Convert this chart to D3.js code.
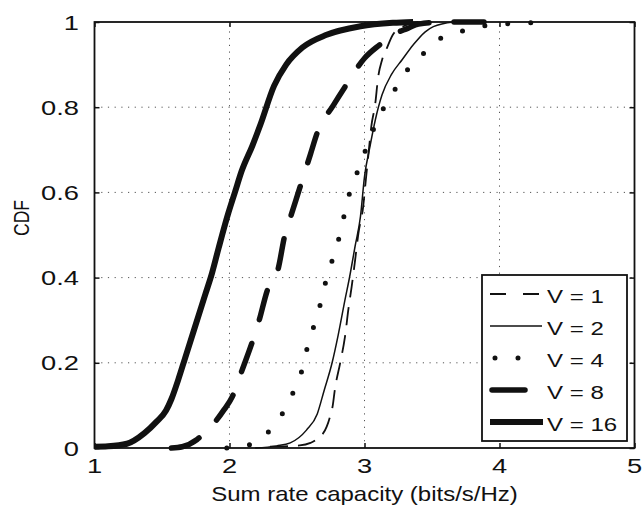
<!DOCTYPE html>
<html>
<head>
<meta charset="utf-8">
<script src="https://cdn.jsdelivr.net/npm/d3@7/dist/d3.min.js"></script>
<style>
  body { margin: 0; background: #fff; }
  text { font-family: "Liberation Sans", Arial, Helvetica, sans-serif; fill: #111; }
</style>
</head>
<body>
<svg id="chart" width="643" height="507"></svg>
<script>
// Axis ticks
const xTicks = [1, 2, 3, 4, 5];
const xTickLabels = ["1", "2", "3", "4", "5"];
const yTicks = [0, 0.2, 0.4, 0.6, 0.8, 1];
const yTickLabels = ["0", "0.2", "0.4", "0.6", "0.8", "1"];
const xTitle = "Sum rate capacity (bits/s/Hz)";
const yTitle = "CDF";

// Series names
const seriesNames = ["V = 1", "V = 2", "V = 4", "V = 8", "V = 16"];

// Empirical CDF curves: [sum rate (bits/s/Hz), CDF]
const cdfV1 = [[2.30,0.003],[2.52,0.006],[2.60,0.012],[2.645,0.02],[2.72,0.05],[2.745,0.074],[2.765,0.10],
  [2.78,0.136],[2.82,0.20],[2.855,0.26],[2.88,0.324],[2.905,0.379],[2.93,0.44],[2.955,0.504],[2.99,0.566],
  [3.01,0.63],[3.03,0.692],[3.05,0.754],[3.08,0.809],[3.10,0.868],[3.13,0.911],[3.165,0.938],[3.21,0.97],
  [3.29,0.99],[3.40,1.0]];
const cdfV2 = [[2.19,0.0],[2.35,0.005],[2.45,0.012],[2.57,0.042],[2.65,0.08],[2.70,0.134],[2.76,0.20],
  [2.805,0.265],[2.855,0.347],[2.89,0.402],[2.93,0.473],[2.97,0.543],[3.00,0.637],[3.04,0.707],[3.08,0.77],
  [3.13,0.829],[3.20,0.877],[3.28,0.912],[3.36,0.946],[3.45,0.977],[3.51,0.989],[3.66,1.0]];
const cdfV4 = [[1.98,0.0],[2.14,0.007],[2.27,0.032],[2.385,0.077],[2.46,0.123],[2.53,0.175],[2.57,0.228],
  [2.62,0.281],[2.67,0.334],[2.71,0.387],[2.76,0.44],[2.81,0.492],[2.85,0.547],[2.89,0.599],[2.95,0.65],
  [2.99,0.684],[3.05,0.735],[3.12,0.785],[3.21,0.833],[3.30,0.88],[3.41,0.917],[3.53,0.955],[3.69,0.975],
  [3.85,0.989],[4.03,0.995],[4.21,0.998],[4.40,1.0]];
const cdfV8 = [[1.57,0.0],[1.65,0.003],[1.76,0.02],[1.83,0.04],[1.89,0.06],[1.96,0.09],[2.02,0.12],
  [2.09,0.18],[2.17,0.25],[2.22,0.30],[2.28,0.37],[2.36,0.42],[2.41,0.50],[2.46,0.55],[2.53,0.62],
  [2.60,0.69],[2.65,0.74],[2.77,0.805],[2.86,0.85],[3.00,0.915],[3.11,0.946],[3.21,0.97],[3.32,0.985],
  [3.40,0.995],[3.60,1.0],[4.05,1.0]];
const cdfV16 = [[1.00,0.003],[1.10,0.004],[1.24,0.01],[1.37,0.035],[1.46,0.062],[1.53,0.088],[1.57,0.115],
  [1.62,0.16],[1.67,0.21],[1.74,0.28],[1.82,0.36],[1.87,0.41],[1.92,0.47],[1.99,0.55],[2.04,0.60],
  [2.09,0.65],[2.17,0.71],[2.23,0.76],[2.33,0.85],[2.42,0.90],[2.54,0.94],[2.72,0.97],[2.97,0.99],
  [3.21,0.998],[3.36,1.0]];

const seriesData = [cdfV1, cdfV2, cdfV4, cdfV8, cdfV16];

// Line styles, one per series
const lineStyles = [
  { width: 1.8, dash: "18,10", cap: "butt",  legendDash: "16,17" },
  { width: 1.5, dash: null,    cap: "butt",  legendDash: null },
  { width: 5,   dash: "0,23",  cap: "round", legendDash: "0,23" },
  { width: 5.5, dash: "30,25", cap: "round", legendDash: "33,40" },
  { width: 6,   dash: null,    cap: "butt",  legendDash: null }
];

const svg = d3.select("#chart");
const W = 643, H = 507;
const plot = { left: 94.5, right: 634.5, top: 22, bottom: 448 };
const stretch = 1.3;   // horizontal glyph stretch used throughout the figure

const x = d3.scaleLinear().domain([1, 5]).range([plot.left, plot.right]);
const y = d3.scaleLinear().domain([0, 1]).range([plot.bottom, plot.top]);

svg.append("rect").attr("width", W).attr("height", H).attr("fill", "#fff");

// Dotted grid
const grid = svg.append("g").attr("stroke", "#555").attr("stroke-width", 1)
  .attr("stroke-dasharray", "1.2,5.5").attr("fill", "none");
xTicks.slice(1, -1).forEach(t => {
  grid.append("line").attr("x1", x(t)).attr("x2", x(t)).attr("y1", plot.bottom).attr("y2", plot.top);
});
yTicks.slice(1, -1).forEach(t => {
  grid.append("line").attr("x1", plot.left).attr("x2", plot.right).attr("y1", y(t)).attr("y2", y(t));
});

// Axes with inward ticks on all four sides
const tickLen = 5;
const axB = d3.axisBottom(x).tickValues(xTicks).tickSize(-tickLen).tickFormat("");
const axT = d3.axisTop(x).tickValues(xTicks).tickSize(-tickLen).tickFormat("");
const axL = d3.axisLeft(y).tickValues(yTicks).tickSize(-tickLen).tickFormat("");
const axR = d3.axisRight(y).tickValues(yTicks).tickSize(-tickLen).tickFormat("");
function styleAxis(g) {
  g.select(".domain").remove();
  g.selectAll("line").attr("stroke", "#111").attr("stroke-width", 1.5);
}
svg.append("g").attr("transform", `translate(0,${plot.bottom})`).call(axB).call(styleAxis);
svg.append("g").attr("transform", `translate(0,${plot.top})`).call(axT).call(styleAxis);
svg.append("g").attr("transform", `translate(${plot.left},0)`).call(axL).call(styleAxis);
svg.append("g").attr("transform", `translate(${plot.right},0)`).call(axR).call(styleAxis);

svg.append("rect")
  .attr("x", plot.left).attr("y", plot.top)
  .attr("width", plot.right - plot.left).attr("height", plot.bottom - plot.top)
  .attr("fill", "none").attr("stroke", "#111").attr("stroke-width", 1.8);

// Tick labels
function stretchedText(parent, tx, ty, str, size, anchor, sx) {
  const g = parent.append("g").attr("transform", `translate(${tx},${ty})`);
  g.append("text").attr("transform", `scale(${sx},1)`)
    .attr("text-anchor", anchor).attr("font-size", size).text(str);
  return g;
}
xTicks.forEach((t, i) => stretchedText(svg, x(t), 473, xTickLabels[i], 21, "middle", stretch));
yTicks.forEach((t, i) => stretchedText(svg, 79, y(t) + 7.5, yTickLabels[i], 21, "end", stretch));

// Axis titles
stretchedText(svg, (plot.left + plot.right) / 2, 501, xTitle, 20, "middle", 1.2);
svg.append("g").attr("transform", "translate(28.5,218) rotate(-90) scale(1,1.3)")
  .append("text").attr("text-anchor", "middle").attr("font-size", 17.5).text(yTitle);

// CDF curves
const line = d3.line().x(d => x(d[0])).y(d => y(d[1])).curve(d3.curveMonotoneX);
seriesData.forEach((data, i) => {
  const s = lineStyles[i];
  svg.append("path").datum(data)
    .attr("d", line)
    .attr("fill", "none")
    .attr("stroke", "#111")
    .attr("stroke-width", s.width)
    .attr("stroke-linecap", s.cap)
    .attr("stroke-linejoin", "round")
    .attr("stroke-dasharray", s.dash);
});

// Legend
const legend = { left: 482, top: 275, right: 627, bottom: 441 };
svg.append("rect")
  .attr("x", legend.left).attr("y", legend.top)
  .attr("width", legend.right - legend.left).attr("height", legend.bottom - legend.top)
  .attr("fill", "#fff").attr("stroke", "#111").attr("stroke-width", 1.8);
const legendSpan = [[490, 539], [490, 542], [495, 519], [492, 526], [490, 543]];
seriesNames.forEach((name, i) => {
  const s = lineStyles[i];
  const cy = 294 + 32 * i;
  svg.append("line")
    .attr("x1", legendSpan[i][0]).attr("x2", legendSpan[i][1])
    .attr("y1", cy).attr("y2", cy)
    .attr("stroke", "#111")
    .attr("stroke-width", s.width)
    .attr("stroke-linecap", s.cap)
    .attr("stroke-dasharray", s.legendDash);
  stretchedText(svg, 547, cy + 9, name, 18.5, "start", stretch);
});
</script>
</body>
</html>
